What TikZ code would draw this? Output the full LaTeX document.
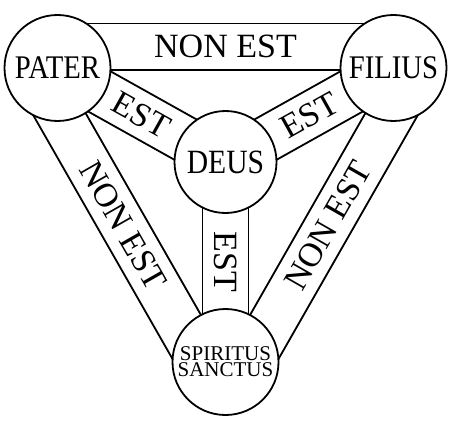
\documentclass[tikz,border=0pt]{standalone}
\usepackage{fontspec}
\newfontfamily\circfont[FakeStretch=0.87]{Liberation Serif}
\newfontfamily\bandfont{Liberation Serif}
\usetikzlibrary{calc, backgrounds}

% band between two circles: from, to, outer edge, inner edge, label
\newcommand{\shieldband}[5]{%
  \pgfmathsetmacro\bandmid{(#3+#4)/2}
  \filldraw[band] ($(#1)!#3pt!-90:(#2)$) -- ($(#2)!#3pt!90:(#1)$)
    -- ($(#2)!#4pt!90:(#1)$) -- ($(#1)!#4pt!-90:(#2)$) -- cycle;
  \path ($(#1)!\bandmid pt!-90:(#2)$) -- ($(#2)!\bandmid pt!90:(#1)$)
    node[midway, sloped, lbl] {#5};
}

\begin{document}
\begin{tikzpicture}[x=1pt, y=1pt]
  \tikzstyle{circ} = [circle, draw, fill=white, line width=1.8pt, inner sep=0pt, minimum size=106pt, font=\circfont\fontsize{33}{33}\selectfont]
  \tikzstyle{band} = [draw, fill=white, line width=1.8pt]
  \tikzstyle{lbl} = [font=\bandfont\fontsize{34}{34}\selectfont, inner sep=0pt]

  \useasboundingbox (0,0) rectangle (454,426);

  \node[circ] (pater) at (57.5,358) {PATER};
  \node[circ] (filius) at (393.5,358) {FILIUS};
  \node[circ, minimum size=102pt, font=\circfont\fontsize{34}{34}\selectfont] (deus) at (225.5,264) {DEUS};
  \node[circ, align=center, font=\bandfont\fontsize{21}{16}\selectfont] (spiritus) at (225.5,64) {SPIRITUS\\SANCTUS};

  \begin{scope}[on background layer]
    \shieldband{filius}{pater}{44.5}{-2}{NON EST}
    \shieldband{pater}{spiritus}{44.5}{-2}{NON EST}
    \shieldband{spiritus}{filius}{44.5}{-2}{NON EST}
    \shieldband{pater}{deus}{23}{-23}{EST}
    \shieldband{filius}{deus}{23}{-23}{EST}
    \shieldband{deus}{spiritus}{23}{-23}{EST}
  \end{scope}
\end{tikzpicture}
\end{document}
